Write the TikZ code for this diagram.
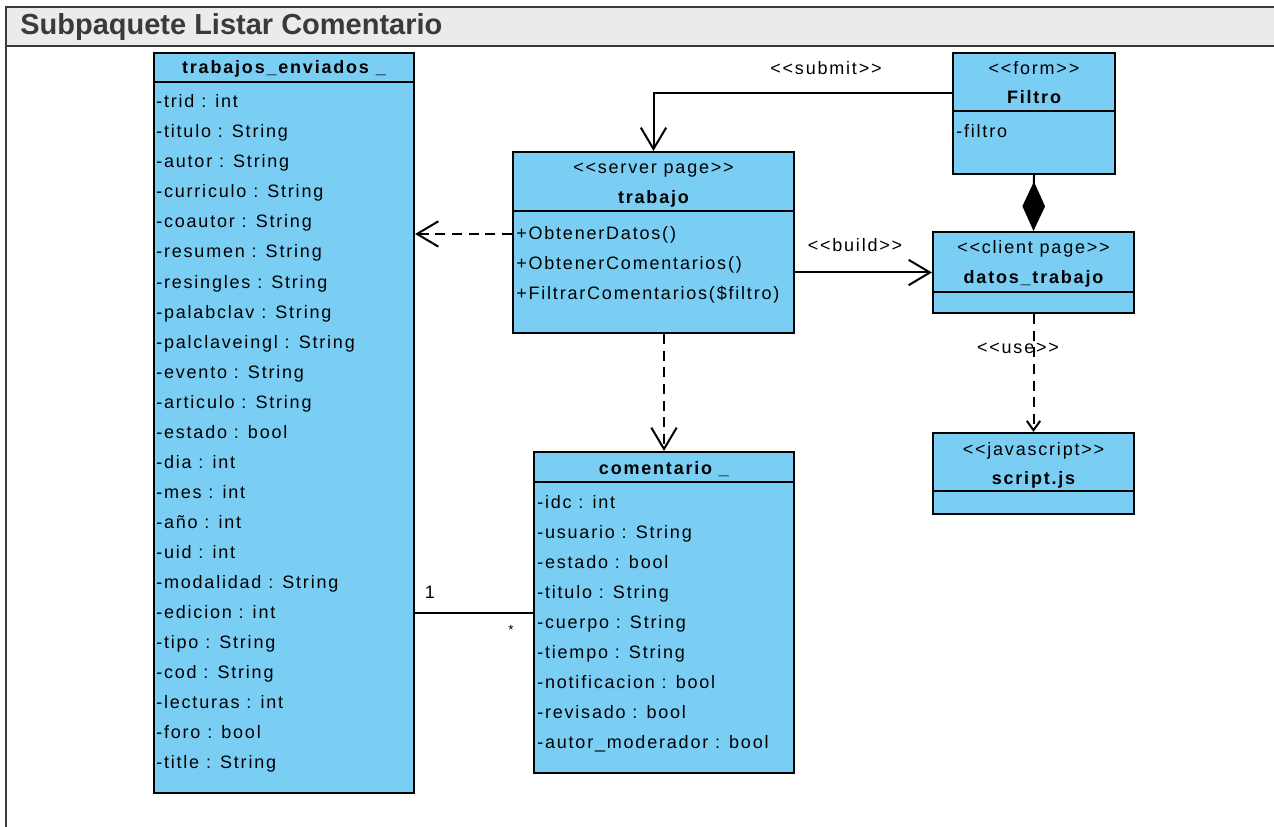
\documentclass[tikz,border=0pt]{standalone}
\usepackage{fontspec}
\setmainfont{Liberation Sans}
\newfontfamily\umlfont[LetterSpace=10]{Liberation Sans}
\usetikzlibrary{arrows.meta,calc,positioning}
\definecolor{azulclase}{RGB}{122,206,244}
\definecolor{grismarco}{RGB}{58,58,58}
\definecolor{grisbanda}{RGB}{236,235,233}
\tikzset{
  clase/.style={draw,line width=1.6pt,fill=azulclase,inner sep=0pt},
  division/.style={line width=1.6pt},
  attr/.style={anchor=base west,inner sep=0pt,font=\umlfont\fontsize{13.5}{16}\selectfont},
  estereo/.style={anchor=base,inner sep=0pt,font=\umlfont\fontsize{13.5}{16}\selectfont},
  nombre/.style={anchor=base,inner sep=0pt,font=\umlfont\bfseries\fontsize{13.5}{16}\selectfont},
  titulo/.style={anchor=base west,inner sep=0pt,text=grismarco,font=\bfseries\fontsize{21.75}{26}\selectfont},
  flecha/.style={line width=1.5pt,-{Straight Barb[length=16pt,width=19pt]}},
  dep/.style={flecha,dash pattern=on 7.5pt off 5pt},
}

\begin{document}
\begin{tikzpicture}[x=0.75pt,y=-0.75pt]
  \useasboundingbox (0,0) rectangle (1274,827);
  % marco del subpaquete
  \fill[grisbanda] (6,7) rectangle (1274,46);
  \draw[grismarco,line width=1.5pt] (1274,7) -- (6,7) -- (6,827);
  \draw[grismarco,line width=1.5pt] (6,46.5) -- (1274,46.5);
  \node[titulo] (tit) at (20,35) {Subpaquete Listar Comentario};

  % clases
  \node[clase,minimum width=195pt,minimum height=555pt] (te) at (284,423) {};
  \node[clase,minimum width=210.75pt,minimum height=135.75pt] (tr) at (653.5,242.5) {};
  \node[clase,minimum width=121.5pt,minimum height=90.75pt] (fi) at (1034,113.5) {};
  \node[clase,minimum width=150.75pt,minimum height=60.75pt] (dt) at (1033.5,272.5) {};
  \node[clase,minimum width=150.75pt,minimum height=60.75pt] (sj) at (1033.5,473.5) {};
  \node[clase,minimum width=195pt,minimum height=240.75pt] (co) at (664,612.5) {};

  \draw[division] ($(te.north west)+(0,30)$) -- ($(te.north east)+(0,30)$);
  \draw[division] ($(tr.north west)+(0,60)$) -- ($(tr.north east)+(0,60)$);
  \draw[division] ($(fi.north west)+(0,59)$) -- ($(fi.north east)+(0,59)$);
  \draw[division] ($(dt.north west)+(0,61)$) -- ($(dt.north east)+(0,61)$);
  \draw[division] ($(sj.north west)+(0,59)$) -- ($(sj.north east)+(0,59)$);
  \draw[division] ($(co.north west)+(0,31)$) -- ($(co.north east)+(0,31)$);

  % trabajos_enviados
  \node[nombre] (te-n) at (284,74) {trabajos\_enviados \_};
  \foreach \txt [count=\i from 0] in {-trid : int,-titulo : String,-autor : String,
      -curriculo : String,-coautor : String,-resumen : String,-resingles : String,
      -palabclav : String,-palclaveingl : String,-evento : String,-articulo : String,
      -estado : bool,-dia : int,-mes : int,-año : int,-uid : int,-modalidad : String,
      -edicion : int,-tipo : String,-cod : String,-lecturas : int,-foro : bool,
      -title : String}
    \node[attr] (te-\i) at (156,108+30*\i) {\txt};

  % trabajo
  \node[estereo] (tr-e) at (653.5,174) {<<server page>>};
  \node[nombre] (tr-n) at (653.5,204) {trabajo};
  \foreach \txt [count=\i from 0] in {+ObtenerDatos(),+ObtenerComentarios(),
      +FiltrarComentarios(\$filtro)}
    \node[attr] (tr-\i) at (516,240+30*\i) {\txt};

  % Filtro
  \node[estereo] (fi-e) at (1034,75) {<<form>>};
  \node[nombre] (fi-n) at (1034,104) {Filtro};
  \node[attr] (fi-0) at (956,138) {-filtro};

  % datos_trabajo y script.js
  \node[estereo] (dt-e) at (1033.5,254) {<<client page>>};
  \node[nombre] (dt-n) at (1033.5,284) {datos\_trabajo};
  \node[estereo] (sj-e) at (1033.5,455) {<<javascript>>};
  \node[nombre] (sj-n) at (1033.5,484) {script.js};

  % comentario
  \node[nombre] (co-n) at (664,474) {comentario \_};
  \foreach \txt [count=\i from 0] in {-idc : int,-usuario : String,-estado : bool,
      -titulo : String,-cuerpo : String,-tiempo : String,-notificacion : bool,
      -revisado : bool,-autor\_moderador : bool}
    \node[attr] (co-\i) at (537,508+30*\i) {\txt};

  % relaciones
  \coordinate (sub) at ([yshift=15pt]fi.west);
  \draw[flecha] (sub) -| (tr.north);
  \node[estereo] (l-sub) at (826,75) {<<submit>>};

  \coordinate (dat) at ([yshift=6.4pt]tr.west);
  \draw[dep] (dat) -- (dat -| te.east);

  \draw[flecha] (dt.west -| tr.east) -- (dt.west);
  \node[estereo] (l-bui) at (855,252) {<<build>>};

  \draw[line width=1.5pt,-{Diamond[length=37pt,width=17pt]}] (fi.south) -- (dt.north);

  \draw[line width=1.5pt,dash pattern=on 7.5pt off 5pt,-{Straight Barb[length=7pt,width=10pt]}] (dt.south) -- (sj.north);
  \node[estereo] (l-use) at (1018,353) {<<use>>};

  \draw[dep] (tr.south -| co.north) -- (co.north);

  \draw[line width=1.5pt] (co.west -| te.east) -- (co.west);
  \node[estereo] (m-1) at (430,598) {1};
  \node[estereo,font=\umlfont\fontsize{10}{12}\selectfont] (m-2) at (511,634) {*};
\end{tikzpicture}
\end{document}
